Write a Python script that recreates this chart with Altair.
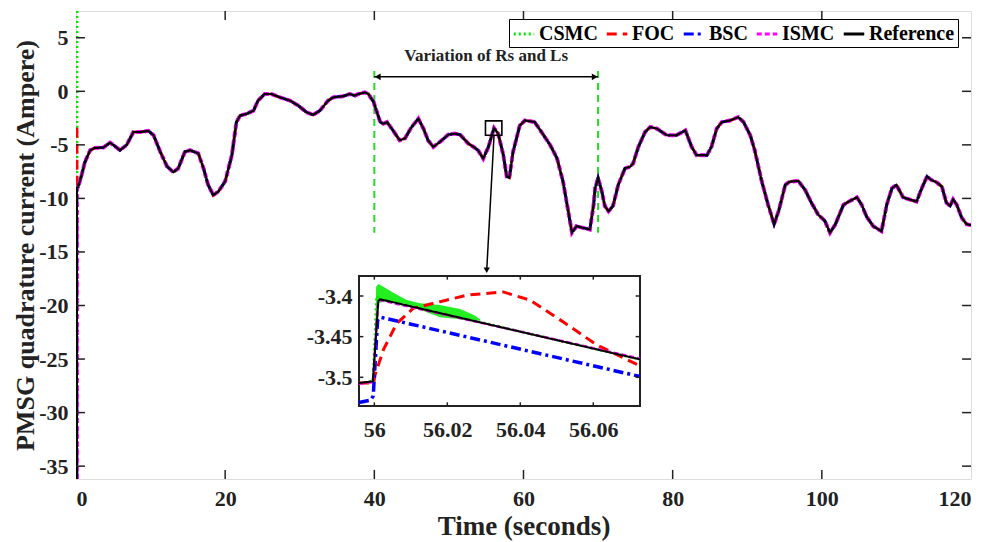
import altair as alt
import pandas as pd

# ---------------- series definitions ----------------
SERIES = ["CSMC", "FOC", "BSC", "ISMC", "Reference"]
COLORS = ["#00e600", "#ff0000", "#0000ff", "#ff00ff", "#000000"]
DASHES = [[2, 3], [10, 6], [10, 4, 3, 4], [5, 3], [1, 0]]
WIDTHS = [3, 3, 3, 4, 2.2]

# ---------------- main curve (shared trajectory) ----------------
main_t = [0.3, 0.76, 1.2, 1.9, 2.55, 3.67, 4.56, 5.0, 5.9, 6.8, 7.7, 8.6, 9.7,
          10.4, 11.3, 12.2, 13.05, 13.7, 14.6, 15.3, 16.4, 17.1, 17.7, 18.4, 19.1,
          20.0, 20.9, 21.5, 22.0, 22.9, 23.8, 24.4, 25.3, 26.2, 27.35, 28.7, 29.8,
          30.9, 31.8, 32.7, 33.8, 34.5, 35.8, 36.7, 37.4, 37.85, 38.75, 39.2, 39.9,
          40.5, 40.8, 41.2, 41.7, 42.5, 43.4, 44.1, 45.0, 45.9, 46.6, 47.2, 47.9,
          48.8, 49.9, 50.8, 51.5, 52.6, 53.3, 53.9, 54.6, 55.3, 56.05, 56.6, 57.3,
          57.75, 58.1, 58.6, 59.5, 60.2, 60.9, 61.5, 62.7, 63.6, 64.5, 65.3, 66.0,
          66.5, 67.1, 68.0, 68.9, 69.4, 69.6, 70.0, 70.5, 70.9, 71.4, 72.0, 72.7,
          73.6, 74.3, 74.7, 75.4, 76.3, 77.0, 77.9, 79.2, 80.5, 81.7, 82.55, 83.2,
          84.6, 85.2, 85.9, 86.6, 87.7, 88.8, 89.5, 90.4, 91.0, 91.9, 92.8, 93.6,
          94.2, 95.1, 95.7, 96.85, 97.75, 98.6, 99.5, 100.4, 101.1, 101.8, 102.9,
          103.6, 104.7, 105.35, 106.0, 106.9, 108.0, 108.7, 109.4, 110.0, 110.9,
          111.6, 112.7, 113.4, 114.1, 114.7, 115.4, 116.1, 116.7, 117.2, 117.6,
          118.1, 118.75, 119.4, 120.0]
main_y = [-8.9, -7.8, -6.6, -5.5, -5.28, -5.25, -4.8, -5.0, -5.5, -5.0, -3.8,
          -3.8, -3.7, -4.1, -5.65, -7.0, -7.55, -7.2, -5.65, -5.5, -5.8, -7.2, -8.7,
          -9.7, -9.35, -8.4, -5.96, -2.9, -2.26, -2.1, -1.8, -0.87, -0.25, -0.25,
          -0.56, -0.87, -1.33, -1.95, -2.2, -1.8, -0.87, -0.56, -0.46, -0.25, -0.4,
          -0.25, -0.1, -0.25, -1.0, -2.26, -2.87, -3.03, -2.87, -3.65, -4.57, -4.4,
          -3.33, -2.56, -3.5, -4.57, -5.19, -4.72, -4.05, -3.95, -4.05, -4.88, -5.19,
          -5.5, -6.27, -5.19, -3.43, -3.95, -5.96, -7.96, -8.06, -5.65, -3.19, -2.72,
          -2.8, -2.87, -4.1, -5.04, -6.27, -8.43, -11.2, -13.2, -12.6, -12.75, -12.9,
          -10.6, -9.05, -8.1, -9.35, -10.7, -11.2, -10.7, -8.74, -7.2, -7.04, -6.73,
          -5.19, -3.8, -3.33, -3.49, -4.1, -4.1, -3.65, -5.19, -5.96, -5.96, -5.19,
          -3.49, -2.87, -2.72, -2.41, -2.87, -4.1, -5.5, -8.28, -10.6, -12.4, -11.2,
          -8.74, -8.43, -8.37, -9.2, -10.4, -11.5, -12.1, -13.2, -12.44, -10.6, -10.3,
          -9.9, -10.6, -11.7, -12.6, -13.06, -10.6, -9.05, -8.74, -9.9, -10.06, -10.3,
          -9.05, -7.96, -8.28, -8.5, -8.9, -10.4, -10.7, -10.1, -10.6, -11.8, -12.4,
          -12.5]
# initial transient at start-up (nearly vertical jump close to t = 0)
start_t = 0.12
start_y = {"CSMC": [7.5, -9.05], "FOC": [-3.4, -9.05], "BSC": [-36.2, -9.05],
           "ISMC": [-36.2, -9.05], "Reference": [-36.2, -9.05]}

# ---------------- inset (zoom around t = 56 s) ----------------
inset_t = {
    "CSMC": [55.9958, 55.9996, 56.0006, 56.0016, 56.0300, 56.0728],
    "FOC": [55.9958, 55.9998, 56.0002, 56.0025, 56.0061, 56.0107, 56.018, 56.0253,
            56.0353, 56.0426, 56.0518, 56.0609, 56.0728],
    "BSC": [55.9958, 55.9990, 55.9997, 56.0009, 56.0016, 56.0728],
    "ISMC": [55.9958, 55.9996, 56.0010, 56.0016, 56.0728],
    "Reference": [55.9958, 55.9996, 56.0011, 56.0016, 56.0728],
}
inset_y = {
    "CSMC": [-3.507, -3.505, -3.400, -3.404, -3.433, -3.478],
    "FOC": [-3.507, -3.507, -3.497, -3.466, -3.434, -3.415, -3.407, -3.399,
            -3.395, -3.405, -3.432, -3.460, -3.486],
    "BSC": [-3.531, -3.528, -3.523, -3.430, -3.426, -3.499],
    "ISMC": [-3.508, -3.506, -3.410, -3.405, -3.477],
    "Reference": [-3.507, -3.505, -3.406, -3.404, -3.478],
}
# CSMC chattering band envelope
band_t = [56.0000, 56.0005, 56.0011, 56.0025, 56.0052, 56.0089, 56.0125, 56.0180,
          56.0235, 56.0271, 56.0290]
band_hi = [-3.5033, -3.3885, -3.3852, -3.3885, -3.396, -3.405, -3.409, -3.411,
           -3.416, -3.423, -3.4287]
band_lo = [-3.5066, -3.458, -3.409, -3.407, -3.407, -3.410, -3.417, -3.426,
           -3.4287, -3.430, -3.430]

# ---------------- axes / annotations ----------------
X_MAIN = [0, 120]
Y_MAIN = [-36.2, 7.5]
X_TICKS = [0, 20, 40, 60, 80, 100, 120]
Y_TICKS = [-35, -30, -25, -20, -15, -10, -5, 0, 5]
X_IN = [55.9958, 56.0728]
Y_IN = [-3.5353, -3.3754]
X_IN_TICKS = [56, 56.02, 56.04, 56.06]
Y_IN_TICKS = [-3.5, -3.45, -3.4]

var_t = [40, 70]            # start / end of parameter variation
var_y = [1.9, -13.2]        # extent of the dashed markers
arrow_y = 1.35
label_pos = [55.0, 2.45]
zoom_box = [54.9, 57.1, -2.76, -4.1]
zoom_arrow = [56.05, -4.1, 55.07, -16.7]

W, H = 895, 468
INSET_RANGE_X = [283, 564]
INSET_RANGE_Y = [395, 265]

FONT = "Liberation Serif"
MINUS = "replace(datum.label, '\u2212', '-')"

# ---------------- data tables ----------------
rows = []
for s in SERIES:
    ts = [start_t] * len(start_y[s]) + main_t
    ys = start_y[s] + main_y
    for i, (t, y) in enumerate(zip(ts, ys)):
        rows.append({"t": t, "y": y, "series": s, "o": i})
main_df = pd.DataFrame(rows)

irows = []
for s in SERIES:
    for i, (t, y) in enumerate(zip(inset_t[s], inset_y[s])):
        irows.append({"t": t, "y": y, "series": s, "o": i})
inset_df = pd.DataFrame(irows)
band_df = pd.DataFrame({"t": band_t, "hi": band_hi, "lo": band_lo})

legend = alt.Legend(title=None, orient="none", legendX=433, legendY=8,
                    direction="horizontal", columns=5, symbolType="stroke",
                    symbolSize=420, symbolStrokeWidth=3, labelFont=FONT,
                    labelFontSize=20, labelFontWeight="bold", labelColor="black",
                    strokeColor="black", fillColor="white", padding=3,
                    columnPadding=2, labelOffset=3)
color_enc = alt.Color("series:N", scale=alt.Scale(domain=SERIES, range=COLORS), legend=legend)
dash_enc = alt.StrokeDash("series:N", scale=alt.Scale(domain=SERIES, range=DASHES), legend=legend)

xs_main = alt.Scale(domain=X_MAIN, nice=False, zero=False)
ys_main = alt.Scale(domain=Y_MAIN, nice=False, zero=False)

x_axis = alt.Axis(values=X_TICKS, title="Time (seconds)", ticks=False, grid=False,
                  domain=False, labelFont=FONT, labelFontSize=22, labelFontWeight="bold",
                  labelColor="#222", labelPadding=9, labelExpr=MINUS,
                  titleFont=FONT, titleFontSize=27, titleFontWeight="bold",
                  titleColor="#222", titlePadding=4)
y_axis = alt.Axis(values=Y_TICKS, title="PMSG quadrature current (Ampere)", ticks=False,
                  grid=False, domain=False, labelFont=FONT, labelFontSize=22,
                  labelFontWeight="bold", labelColor="#222", labelPadding=8,
                  labelExpr=MINUS, titleFont=FONT, titleFontSize=26,
                  titleFontWeight="bold", titleColor="#222", titlePadding=0)

main_layers = []
# variation markers
vdf = pd.DataFrame({"t": var_t, "y0": [var_y[0]] * 2, "y1": [var_y[1]] * 2})
main_layers.append(
    alt.Chart(vdf).mark_rule(color="#22dd22", strokeWidth=2, strokeDash=[7, 5]).encode(
        x=alt.X("t:Q", scale=xs_main, axis=x_axis),
        y=alt.Y("y0:Q", scale=ys_main, axis=y_axis), y2="y1:Q"))
for s, w in zip(SERIES, WIDTHS):
    main_layers.append(
        alt.Chart(main_df[main_df.series == s]).mark_line(strokeWidth=w, clip=True).encode(
            x=alt.X("t:Q", scale=xs_main), y=alt.Y("y:Q", scale=ys_main),
            color=color_enc, strokeDash=dash_enc, order="o:Q"))
# double-headed arrow
adf = pd.DataFrame({"t0": [var_t[0]], "t1": [var_t[1]], "y": [arrow_y]})
main_layers.append(alt.Chart(adf).mark_rule(color="black", strokeWidth=1.5).encode(
    x="t0:Q", x2="t1:Q", y="y:Q"))
hdf = pd.DataFrame({"t": [var_t[0] + 0.45, var_t[1] - 0.45], "y": [arrow_y] * 2,
                    "shape": ["triangle-left", "triangle-right"]})
main_layers.append(alt.Chart(hdf).mark_point(filled=True, color="black", size=45, opacity=1).encode(
    x="t:Q", y="y:Q", shape=alt.Shape("shape:N", scale=None)))
tdf = pd.DataFrame({"t": [label_pos[0]], "y": [label_pos[1]], "txt": ["Variation of Rs and Ls"]})
main_layers.append(alt.Chart(tdf).mark_text(font=FONT, fontSize=17, fontWeight="bold",
                                            color="#222", baseline="bottom").encode(
    x="t:Q", y="y:Q", text="txt:N"))
# zoom box and arrow to the inset
zdf = pd.DataFrame({"x0": [zoom_box[0]], "x1": [zoom_box[1]], "y0": [zoom_box[2]], "y1": [zoom_box[3]]})
main_layers.append(alt.Chart(zdf).mark_rect(fill=None, stroke="black", strokeWidth=1.6).encode(
    x="x0:Q", x2="x1:Q", y="y0:Q", y2="y1:Q"))
zadf = pd.DataFrame({"x0": [zoom_arrow[0]], "y0": [zoom_arrow[1]], "x1": [zoom_arrow[2]], "y1": [zoom_arrow[3]]})
main_layers.append(alt.Chart(zadf).mark_rule(color="black", strokeWidth=1.5).encode(
    x="x0:Q", y="y0:Q", x2="x1:Q", y2="y1:Q"))
main_layers.append(alt.Chart(zadf).mark_point(filled=True, color="black", size=40,
                                              shape="triangle-down", opacity=1).encode(
    x="x1:Q", y="y1:Q"))
# inward ticks on all four sides of the main frame
tk = []
for v in X_TICKS[1:-1]:
    tk.append({"x": v, "x2": v, "y": Y_MAIN[0], "y2": Y_MAIN[0] + 0.85})
    tk.append({"x": v, "x2": v, "y": Y_MAIN[1], "y2": Y_MAIN[1] - 0.85})
for v in Y_TICKS:
    tk.append({"x": X_MAIN[0], "x2": X_MAIN[0] + 1.2, "y": v, "y2": v})
    tk.append({"x": X_MAIN[1], "x2": X_MAIN[1] - 1.2, "y": v, "y2": v})
main_layers.append(alt.Chart(pd.DataFrame(tk)).mark_rule(color="#222", strokeWidth=1.5).encode(
    x="x:Q", x2="x2:Q", y="y:Q", y2="y2:Q"))

main = alt.layer(*main_layers)

# ---------------- inset ----------------
xs_in = alt.Scale(domain=X_IN, range=INSET_RANGE_X, nice=False, zero=False)
ys_in = alt.Scale(domain=Y_IN, range=INSET_RANGE_Y, nice=False, zero=False)
xin_axis = alt.Axis(values=X_IN_TICKS, orient="bottom", offset=INSET_RANGE_Y[0] - H,
                    title=None, ticks=False, grid=False, domain=False, format=".2~f",
                    labelFont=FONT, labelFontSize=22, labelFontWeight="bold",
                    labelColor="#222", labelPadding=13, labelExpr=MINUS)
yin_axis = alt.Axis(values=Y_IN_TICKS, orient="left", offset=-INSET_RANGE_X[0],
                    title=None, ticks=False, grid=False, domain=False, format=".2~f",
                    labelFont=FONT, labelFontSize=22, labelFontWeight="bold",
                    labelColor="#222", labelPadding=7, labelExpr=MINUS)

inset_layers = []
fdf = pd.DataFrame({"x0": [X_IN[0]], "x1": [X_IN[1]], "y0": [Y_IN[0]], "y1": [Y_IN[1]]})
inset_layers.append(alt.Chart(fdf).mark_rect(fill="white", stroke="#222", strokeWidth=2).encode(
    x=alt.X("x0:Q", scale=xs_in, axis=xin_axis), x2="x1:Q",
    y=alt.Y("y0:Q", scale=ys_in, axis=yin_axis), y2="y1:Q"))
inset_layers.append(alt.Chart(band_df).mark_area(color="#22ee22", opacity=1).encode(
    x=alt.X("t:Q", scale=xs_in), y=alt.Y("hi:Q", scale=ys_in), y2="lo:Q"))
for s, w in zip(SERIES, [2.5, 3, 3.5, 2.5, 2]):
    inset_layers.append(
        alt.Chart(inset_df[inset_df.series == s]).mark_line(strokeWidth=w, clip=True).encode(
            x=alt.X("t:Q", scale=xs_in), y=alt.Y("y:Q", scale=ys_in),
            color=color_enc, strokeDash=dash_enc, order="o:Q"))
itk = []
for v in X_IN_TICKS:
    itk.append({"x": v, "x2": v, "y": Y_IN[0], "y2": Y_IN[0] + 0.0045})
    itk.append({"x": v, "x2": v, "y": Y_IN[1], "y2": Y_IN[1] - 0.0045})
for v in Y_IN_TICKS:
    itk.append({"x": X_IN[0], "x2": X_IN[0] + 0.0012, "y": v, "y2": v})
    itk.append({"x": X_IN[1], "x2": X_IN[1] - 0.0012, "y": v, "y2": v})
inset_layers.append(alt.Chart(pd.DataFrame(itk)).mark_rule(color="#222", strokeWidth=1.5).encode(
    x="x:Q", x2="x2:Q", y="y:Q", y2="y2:Q"))
inset = alt.layer(*inset_layers)

chart = alt.layer(main, inset).resolve_scale(x="independent", y="independent").properties(
    width=W, height=H,
    autosize=alt.AutoSizeParams(type="none"),
    padding={"left": 76, "top": 11, "right": 21, "bottom": 63},
).configure_view(stroke="#222", strokeWidth=2).configure(background="white")

chart.save("out.html", embed_options={"renderer": "svg", "actions": False})
